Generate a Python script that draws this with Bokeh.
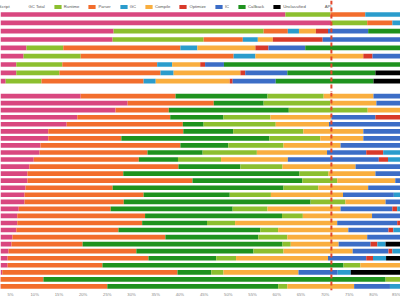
from bokeh.plotting import figure
from bokeh.models import (Range1d, Span, Legend, LegendItem, FixedTicker,
                          PrintfTickFormatter, ColumnDataSource)
from bokeh.layouts import column
from bokeh.embed import file_html
from bokeh.resources import INLINE
import numpy as np

# ---------------- data (percent of total time) ----------------
legend_names = ["JavaScript", "GC Total", "Runtime", "Parser", "GC", "Compile",
                "Optimize", "IC", "Callback", "Unclassified", "API"]
series_colors = ["#d9477f", "#ffffff", "#8cbf2f", "#f26d2d", "#2b9ccc", "#f9ae3f",
                 "#d83a2a", "#3c6dc6", "#1f921e", "#000000", "#952a9f"]

# top group (9 rows)
top_javascript   = [61.8, 71.3, 26.3, 26.1, 8.3, 7.7, 6.2, 6.2, 4.0]
top_runtime      = [9.3, 7.4, 31.0, 18.8, 7.6, 11.8, 9.5, 8.9, 7.4]
top_parser       = [7.2, 5.2, 5.0, 8.1, 24.2, 31.6, 19.6, 20.9, 21.1]
top_gc           = [8.5, 5.0, 2.3, 3.1, 3.5, 4.5, 3.1, 2.7, 2.5]
top_compile      = [0, 0, 3.5, 3.1, 12.0, 22.3, 5.8, 13.8, 15.3]
top_optimize     = [0, 0, 2.5, 10.3, 2.7, 1.9, 1.0, 1.0, 0.6]
top_ic           = [0, 0, 8.3, 17.0, 7.6, 8.0, 3.9, 8.7, 8.9]
top_callback     = [0, 0, 8.0, 0, 21.0, 0, 38.0, 18.2, 20.2]
top_unclassified = [0, 0, 0, 0, 0, 0, 0, 8.0, 8.0]

# bottom group (28 rows)
bot_javascript   = [19.5, 29.2, 26.7, 18.8, 16.6, 12.8, 12.8, 11.2, 11.0, 9.8, 8.9, 8.5, 8.5, 8.1,
                    7.9, 7.9, 6.7, 6.4, 6.4, 6.2, 5.4, 5.2, 4.6, 4.4, 4.4, 3.3, 2.0, 2.0]
bot_parser       = [19.6, 17.8, 11.0, 19.2, 24.0, 27.9, 15.1, 28.9, 22.3, 21.7, 30.8, 19.8, 34.1, 18.0,
                    24.6, 20.5, 19.0, 26.4, 25.8, 21.1, 31.6, 14.7, 26.4, 29.1, 19.6, 36.2, 9.8, 23.0]
bot_callback     = [19.0, 10.3, 24.8, 11.0, 4.3, 10.3, 30.6, 9.9, 11.4, 8.1, 12.8, 36.4, 22.7, 35.3,
                    17.8, 38.6, 25.2, 28.3, 13.4, 29.3, 19.2, 41.3, 24.2, 14.0, 49.8, 7.0, 70.7, 35.3]
bot_runtime      = [11.6, 13.8, 16.3, 9.7, 14.9, 14.5, 10.5, 11.4, 11.2, 8.9, 8.7, 6.0, 7.2, 7.2,
                    8.5, 7.2, 7.2, 4.3, 5.8, 3.7, 6.0, 1.7, 6.2, 4.1, 3.5, 2.5, 4.0, 1.9]
bot_compile      = [10.3, 9.5, 8.0, 12.6, 11.0, 12.4, 8.9, 11.8, 14.5, 13.8, 15.1, 9.7, 12.0, 10.3,
                    14.9, 8.3, 15.1, 14.3, 21.1, 14.5, 16.5, 9.9, 14.3, 19.0, 10.0, 15.5, 0, 13.8]
bot_ic           = [8.0, 6.0, 0, 9.1, 16.0, 10.0, 10.0, 14.0, 8.1, 18.8, 12.0, 8.0, 4.0, 10.0,
                    10.5, 6.0, 10.7, 8.0, 12.4, 8.3, 8.0, 6.6, 7.4, 7.9, 0, 8.1, 0, 7.4]
bot_optimize     = [0, 0, 0, 6.0, 0, 0, 0, 0, 3.5, 1.9, 0, 0, 0, 0,
                    0, 0, 1.0, 0, 2.0, 1.0, 0, 1.4, 0.8, 1.4, 0, 0, 0, 0]
bot_gc           = [0, 0, 0, 0, 0, 0, 0, 0, 5.0, 4.0, 0, 0, 0, 0,
                    3.0, 0, 3.0, 0, 0, 3.0, 0, 1.7, 3.0, 2.7, 0, 2.7, 0, 3.0]
bot_unclassified = [0, 0, 0, 0, 0, 0, 0, 0, 0, 0, 0, 0, 0, 0,
                    0, 0, 0, 0, 0, 0, 0, 6.0, 0, 4.0, 0, 12.0, 0, 0]

marker_pct = 71.3
tick_values = list(range(5, 90, 5))

color_of = dict(zip(legend_names, series_colors))
top_stack = [("JavaScript", top_javascript), ("Runtime", top_runtime), ("Parser", top_parser),
             ("GC", top_gc), ("Compile", top_compile), ("Optimize", top_optimize),
             ("IC", top_ic), ("Callback", top_callback), ("Unclassified", top_unclassified)]
bot_stack = [("JavaScript", bot_javascript), ("Parser", bot_parser), ("Callback", bot_callback),
             ("Runtime", bot_runtime), ("Compile", bot_compile), ("IC", bot_ic),
             ("Optimize", bot_optimize), ("GC", bot_gc), ("Unclassified", bot_unclassified)]

FONT = "Liberation Sans"
x_range = Range1d(2.93, 85.58)


def make_fig(frame_h, y_range):
    p = figure(frame_width=400, frame_height=frame_h, x_range=x_range, y_range=y_range,
               output_backend="svg", toolbar_location=None, min_border=0,
               background_fill_color="white", border_fill_color="white")
    p.grid.visible = False
    p.outline_line_color = None
    p.yaxis.visible = False
    return p


def draw_stack(p, stack, height):
    n = len(stack[0][1])
    left = np.zeros(n)
    rends = {}
    for name, vals in stack:
        v = np.array(vals, dtype=float)
        src = ColumnDataSource(dict(y=np.arange(n), left=left.copy(), right=left + v))
        rends[name] = p.hbar(y="y", left="left", right="right", height=height, source=src,
                             fill_color=color_of[name], line_color=None)
        left = left + v
    return rends


p1 = make_fig(92, Range1d(9.36, -1.68))
p1.xaxis.visible = False
r_top = draw_stack(p1, top_stack, 0.56)
p1.add_layout(Span(location=marker_pct, dimension="height", line_color="#e2472b",
                   line_width=2, line_dash="4 3"))

items = []
for name in legend_names:
    if name in r_top:
        r = r_top[name]
    else:
        r = p1.hbar(y=[], left=[], right=[], height=0.6, fill_color=color_of[name],
                    line_color=None)
    items.append(LegendItem(label=name, renderers=[r]))
legend = Legend(items=items, orientation="horizontal", location=(-21, 83),
                glyph_width=9, glyph_height=5, label_standoff=2, spacing=8,
                label_text_font_size="4.2px", label_text_font=FONT, label_text_color="#555555",
                label_height=5, label_width=1, padding=0, margin=0,
                border_line_color=None, background_fill_alpha=0)
p1.add_layout(legend)

p2 = make_fig(198, Range1d(27.58, -0.51))
draw_stack(p2, bot_stack, 0.66)
p2.add_layout(Span(location=marker_pct, dimension="height", line_color="#e2472b",
                   line_width=2, line_dash="4 3"))
ax = p2.xaxis[0]
ax.ticker = FixedTicker(ticks=tick_values)
ax.formatter = PrintfTickFormatter(format="%d%%")
ax.axis_line_color = None
ax.major_tick_line_color = None
ax.minor_tick_line_color = None
ax.major_tick_out = 0
ax.major_tick_in = 0
ax.minor_tick_out = 0
ax.minor_tick_in = 0
ax.major_label_text_font_size = "4.2px"
ax.major_label_text_font = FONT
ax.major_label_text_color = "#888888"
ax.major_label_standoff = 1

layout = column(p1, p2, spacing=0)
open("out.html", "w").write(file_html(layout, INLINE))
